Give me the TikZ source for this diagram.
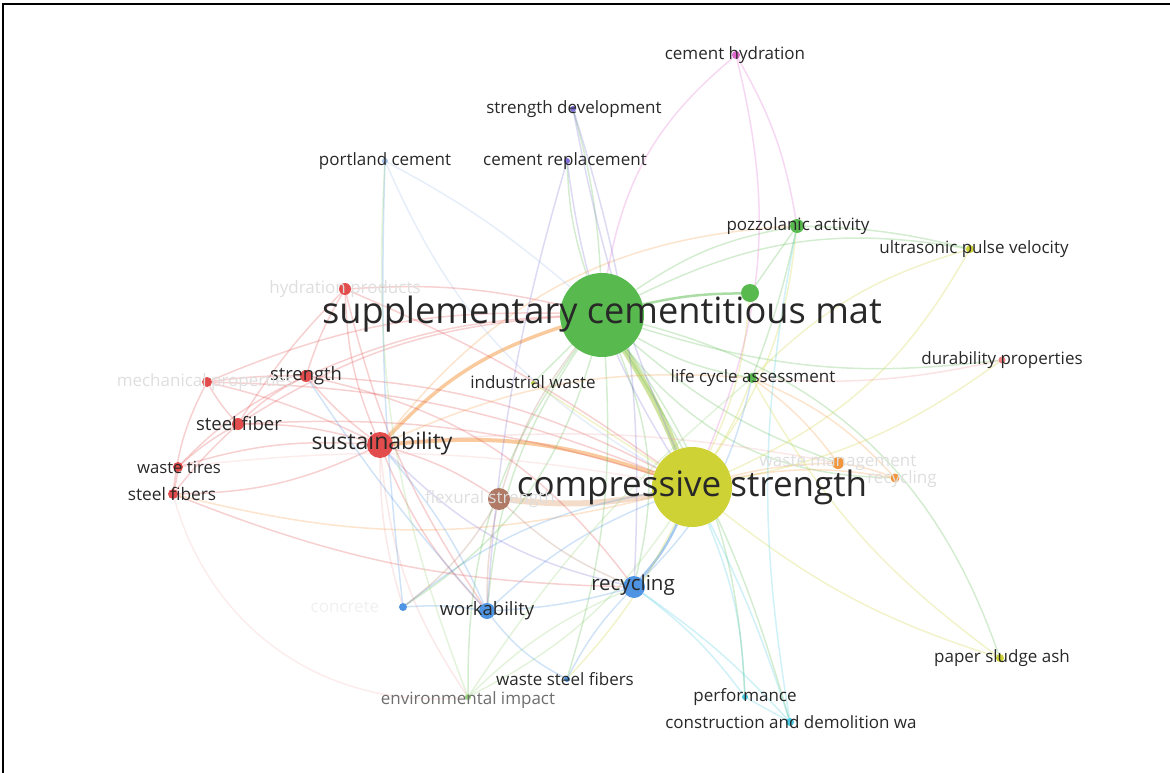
\documentclass[tikz,border=0pt]{standalone}
\usepackage{fontspec}
\setmainfont{Open Sans}
\pgfdeclarelayer{edges}
\pgfdeclarelayer{labels}
\pgfsetlayers{edges,main,labels}

\definecolor{cgreen}{RGB}{88,186,78}
\definecolor{cyellow}{RGB}{206,210,52}
\definecolor{cred}{RGB}{226,76,76}
\definecolor{cblue}{RGB}{78,148,226}
\definecolor{cbrown}{RGB}{176,122,102}
\definecolor{corange}{RGB}{242,150,62}
\definecolor{cpurple}{RGB}{124,112,214}
\definecolor{cpink}{RGB}{222,104,204}
\definecolor{ccyan}{RGB}{70,200,224}
\definecolor{cltgreen}{RGB}{150,210,120}
\definecolor{cltblue}{RGB}{160,190,230}
\definecolor{txt}{RGB}{40,40,40}
\definecolor{txtgrey}{RGB}{110,110,110}
\definecolor{txtfaint}{RGB}{222,222,222}

\tikzset{
  dot/.style={circle, inner sep=0pt, draw=none, fill=#1},
  lbl/.style={inner sep=0pt, text=txt, font=\fontsize{#1}{#1}\selectfont},
  faintlbl/.style={inner sep=0pt, text=txtfaint, font=\fontsize{#1}{#1}\selectfont},
  e/.style={line width=1.5pt, draw=#1, draw opacity=0.26},
  ethick/.style={line width=#1, draw opacity=0.5},
}

\begin{document}
\begin{tikzpicture}[x=1pt,y=-1pt]
\useasboundingbox (0,0) rectangle (1170,773);
\draw[line width=2pt] (3,773) -- (3,4) -- (1170,4);

% ---------- items ----------
\node[dot=cgreen, minimum size=84pt] (scm) at (602,315) {};
\node[dot=cyellow, minimum size=80pt] (comp) at (692,487) {};
\node[dot=cred, minimum size=26pt] (sust) at (380,445) {};
\node[dot=cblue, minimum size=22pt] (recy) at (634,587) {};
\node[dot=cblue, minimum size=16pt] (work) at (487,611) {};
\node[dot=cbrown, minimum size=22pt] (flex) at (499,499) {};
\node[dot=cred, minimum size=12pt] (strg) at (306,376) {};
\node[dot=cred, minimum size=12pt] (stf) at (238,424) {};
\node[dot=cred, minimum size=10pt] (wt) at (178,467) {};
\node[dot=cred, minimum size=10pt] (stfs) at (173,494) {};
\node[dot=cred, minimum size=10pt] (mech) at (207,382) {};
\node[dot=cred, minimum size=12pt] (hyd) at (345,289) {};
\node[dot=cgreen, minimum size=10pt] (lca) at (752,378) {};
\node[dot=cgreen, minimum size=14pt] (pozz) at (797,226) {};
\node[dot=cgreen, minimum size=18pt] (g2) at (750,293) {};
\node[dot=cyellow, minimum size=8pt] (usv) at (970,249) {};
\node[dot=cred!70, minimum size=7pt] (dur) at (1002,360) {};
\node[dot=cpink, minimum size=8pt] (chyd) at (736,55) {};
\node[dot=cpurple, minimum size=6pt] (sdev) at (573,109) {};
\node[dot=cpurple, minimum size=6pt] (crep) at (567,161) {};
\node[dot=cltblue, minimum size=6pt] (pc) at (385,161) {};
\node[dot=corange, minimum size=12pt] (wm) at (838,463) {};
\node[dot=corange, minimum size=9pt] (orec) at (895,478) {};
\node[dot=cyellow, minimum size=8pt] (psa) at (1000,658) {};
\node[dot=cblue, minimum size=6pt] (wsf) at (567,679) {};
\node[dot=cltgreen, minimum size=6pt] (env) at (468,697) {};
\node[dot=ccyan, minimum size=6pt] (perf) at (745,697) {};
\node[dot=ccyan, minimum size=8pt] (cdw) at (790,722) {};
\node[dot=cblue, minimum size=8pt] (bdot) at (403,607) {};
\node[dot=cyellow!80!cgreen, minimum size=4pt] (iw) at (533,383) {};

% ---------- links ----------
\begin{pgfonlayer}{edges}
% strongest links
\draw[ethick=6pt, draw=cyellow!60!cgreen] (scm) to[bend left=5] (comp);
\draw[ethick=4pt, draw=corange] (sust) to[bend left=12] (comp);
\draw[ethick=6pt, draw=corange!60!cbrown!60] (flex) to[bend right=8] (comp);
\draw[ethick=3.5pt, draw=corange] (sust) to[bend left=14] (scm);
\draw[ethick=2.5pt, draw=cblue] (recy) to[bend right=8] (comp);
\draw[ethick=2.5pt, draw=cgreen] (scm) to[bend left=6] (g2);

% supplementary cementitious materials
\draw[e=cgreen] (scm) to[bend left=12] (pozz);
\draw[e=cgreen] (scm) to[bend right=10] (lca);
\draw[e=cgreen] (scm) to[bend left=8] (crep);
\draw[e=cgreen] (scm) to[bend right=6] (sdev);
\draw[e=cgreen] (scm) to[bend left=18] (usv);
\draw[e=cgreen] (scm) to[bend right=12] (dur);
\draw[e=cgreen] (scm) to[bend left=28] (psa);
\draw[e=cgreen] (scm) to[bend right=18] (env);
\draw[e=cgreen] (scm) to[bend left=10] (wsf);
\draw[e=cgreen] (scm) to[bend left=16] (perf);
\draw[e=cgreen] (scm) to[bend left=8] (cdw);
\draw[e=cgreen] (scm) to (iw);
\draw[e=cgreen] (scm) to[bend left=18] (recy);
\draw[e=cgreen] (scm) to[bend right=14] (work);
\draw[e=cgreen] (scm) to[bend right=10] (wm);
\draw[e=cgreen] (scm) to[bend left=20] (bdot);
\draw[e=cgreen] (scm) to[bend right=25] (orec);

% compressive strength
\draw[e=cyellow] (comp) to[bend right=18] (usv);
\draw[e=cyellow] (comp) to[bend right=12] (dur);
\draw[e=cyellow] (comp) to[bend right=10] (psa);
\draw[e=cyellow] (comp) to[bend right=14] (pozz);
\draw[e=cyellow] (comp) to[bend right=6] (lca);
\draw[e=cyellow] (comp) to[bend right=10] (g2);
\draw[e=corange] (comp) to[bend left=6] (wm);
\draw[e=corange] (comp) to[bend left=10] (orec);
\draw[e=cred] (comp) to[bend right=12] (strg);
\draw[e=cred] (comp) to[bend right=10] (stf);
\draw[e=corange] (comp) to[bend left=14] (stfs);
\draw[e=cblue] (comp) to[bend right=10] (work);
\draw[e=ccyan] (comp) to[bend left=10] (perf);
\draw[e=ccyan] (comp) to[bend left=4] (cdw);
\draw[e=cltgreen] (comp) to[bend left=14] (env);
\draw[e=cpurple] (comp) to[bend left=12] (crep);
\draw[e=cpink] (comp) to[bend right=18] (chyd);
\draw[e=cltblue] (comp) to[bend left=18] (pc);
\draw[e=cpurple] (comp) to[bend left=6] (sdev);
\draw[e=cyellow] (comp) to (iw);
\draw[e=cyellow] (comp) to[bend left=8] (wsf);
\draw[e=cblue] (comp) to[bend right=14] (bdot);
\draw[e=cred] (comp) to[bend right=6] (hyd);
\draw[e=cred] (comp) to[bend right=10] (mech);

% sustainability cluster
\draw[e=cred] (sust) to[bend left=6] (strg);
\draw[e=cred] (sust) to[bend right=8] (stf);
\draw[e=cred] (sust) to[bend right=10] (wt);
\draw[e=cred] (sust) to[bend left=12] (stfs);
\draw[e=cred] (sust) to[bend right=6] (mech);
\draw[e=cred] (sust) to[bend left=10] (hyd);
\draw[e=cred] (sust) to[bend right=10] (work);
\draw[e=cpurple] (sust) to[bend right=16] (recy);
\draw[e=cred] (sust) to[bend left=8] (flex);
\draw[e=corange] (sust) to[bend left=24] (pozz);
\draw[e=corange] (sust) to[bend left=14] (lca);
\draw[e=cred!50] (sust) to[bend right=14] (env);
\draw[e=cred!50] (sust) to[bend right=8] (bdot);
\draw[e=cred!50] (sust) to[bend left=8] (wm);

\draw[e=cred] (strg) to[bend right=4] (mech);
\draw[e=cred] (strg) to[bend right=8] (stf);
\draw[e=cred] (strg) to[bend left=6] (hyd);
\draw[e=cred] (strg) to[bend right=10] (wt);
\draw[e=cred] (strg) to[bend left=10] (scm);
\draw[e=cred] (strg) to[bend left=20] (recy);
\draw[e=cred] (mech) to[bend right=6] (stf);
\draw[e=cred] (mech) to[bend right=10] (stfs);
\draw[e=cred] (mech) to[bend left=12] (scm);
\draw[e=cred] (stf) to[bend right=6] (wt);
\draw[e=cred] (stf) to[bend right=4] (stfs);
\draw[e=cred] (stf) to[bend left=14] (scm);
\draw[e=cred] (stf) to[bend left=6] (hyd);
\draw[e=cred] (stfs) to[bend right=4] (wt);
\draw[e=cred] (stfs) to[bend right=10] (recy);
\draw[e=cred!40] (stfs) to[bend right=40] (env);
\draw[e=cred!40] (wt) to[bend left=8] (comp);
\draw[e=cred] (hyd) to[bend left=8] (scm);
\draw[e=cred] (hyd) to[bend right=10] (work);

% flexural strength
\draw[e=cbrown] (flex) to[bend left=10] (scm);
\draw[e=cbrown] (flex) to[bend right=6] (work);
\draw[e=cbrown] (flex) to[bend right=10] (recy);
\draw[e=cbrown] (flex) to[bend left=10] (bdot);

% recycling and workability
\draw[e=cblue] (recy) to[bend left=6] (work);
\draw[e=cblue] (recy) to[bend right=8] (wsf);
\draw[e=ccyan] (recy) to[bend left=8] (perf);
\draw[e=ccyan] (recy) to[bend left=6] (cdw);
\draw[e=cltgreen] (recy) to[bend right=10] (env);
\draw[e=cblue] (recy) to[bend right=16] (lca);
\draw[e=cblue] (work) to[bend right=6] (bdot);
\draw[e=cblue] (work) to[bend right=12] (wsf);
\draw[e=cblue] (work) to[bend right=8] (sust);
\draw[e=cblue] (work) to[bend left=4] (strg);
\draw[e=cblue] (bdot) to[bend left=4] (pc);
\draw[e=cltgreen] (env) to[bend left=8] (lca);
\draw[e=cltgreen] (env) to[bend left=12] (pc);

% remaining small clusters
\draw[e=corange] (wm) to[bend left=6] (orec);
\draw[e=corange] (wm) to[bend right=8] (lca);
\draw[e=corange] (orec) to[bend right=12] (lca);
\draw[e=cgreen] (pozz) to[bend left=6] (usv);
\draw[e=cgreen] (pozz) to[bend left=4] (lca);
\draw[e=cgreen] (pozz) to (g2);
\draw[e=cyellow] (usv) to[bend right=14] (lca);
\draw[e=ccyan] (cdw) to (perf);
\draw[e=ccyan] (cdw) to[bend left=10] (pozz);
\draw[e=cpink] (chyd) to[bend right=20] (scm);
\draw[e=cpink] (chyd) to[bend left=10] (pozz);
\draw[e=cpurple] (sdev) to[bend left=10] (recy);
\draw[e=cpurple] (crep) to[bend right=6] (work);
\draw[e=cltblue] (pc) to[bend left=6] (scm);
\draw[e=cyellow] (psa) to[bend left=12] (lca);
\draw[e=cred!60] (dur) to[bend left=8] (lca);
\end{pgfonlayer}

% ---------- labels ----------
\begin{pgfonlayer}{labels}
\node[lbl=36.2] (scmL) at (602,314) {supplementary cementitious mat};
\node[lbl=35] (compL) at (692,487) {compressive strength};
\node[lbl=23] (sustL) at (382,444) {sustainability};
\node[lbl=20.5] (recyL) at (633,585) {recycling};
\node[lbl=18.5] (workL) at (487,611) {workability};
\node[lbl=18.4] (strgL) at (306,376) {strength};
\node[lbl=18.5] (stfL) at (239,424) {steel fiber};
\node[lbl=16.7] (wtL) at (179,467) {waste tires};
\node[lbl=17.3] (stfsL) at (172,494) {steel fibers};
\node[lbl=17] (iwL) at (533,382) {industrial waste};
\node[lbl=17] (lcaL) at (753,378) {life cycle assessment};
\node[lbl=17] (pozzL) at (798,226) {pozzolanic activity};
\node[lbl=17] (usvL) at (974,249) {ultrasonic pulse velocity};
\node[lbl=17] (durL) at (1002,360) {durability properties};
\node[lbl=17] (chydL) at (735,55) {cement hydration};
\node[lbl=17] (sdevL) at (574,109) {strength development};
\node[lbl=17] (crepL) at (565,161) {cement replacement};
\node[lbl=17] (pcL) at (385,161) {portland cement};
\node[lbl=17] (psaL) at (1002,658) {paper sludge ash};
\node[lbl=17] (wsfL) at (565,679) {waste steel fibers};
\node[lbl=17, text=txtgrey] (envL) at (468,700) {environmental impact};
\node[lbl=17] (perfL) at (745,697) {performance};
\node[lbl=17] (cdwL) at (791,722) {construction and demolition wa};
\node[faintlbl=17] (hydL) at (345,289) {hydration products};
\node[faintlbl=17] (mechL) at (205,382) {mechanical properties};
\node[faintlbl=17] (flexL) at (490,499) {flexural strength};
\node[faintlbl=17] (wmL) at (838,463) {waste management};
\node[faintlbl=17] (orecL) at (902,479) {recycling};
\node[faintlbl=17, text=black!6] (bdotL) at (345,607) {concrete};
\end{pgfonlayer}
\end{tikzpicture}
\end{document}
